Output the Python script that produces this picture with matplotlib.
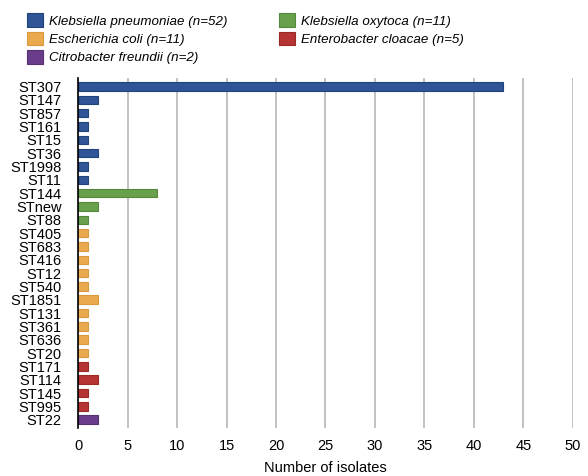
import matplotlib
matplotlib.use("Agg")
import matplotlib.pyplot as plt
from matplotlib.patches import Patch

plt.rcParams['font.family'] = ['Liberation Sans', 'DejaVu Sans']

# Sequence types, grouped by species
sequence_types = [
    "ST307", "ST147", "ST857", "ST161", "ST15", "ST36", "ST1998", "ST11",
    "ST144", "STnew", "ST88",
    "ST405", "ST683", "ST416", "ST12", "ST540", "ST1851", "ST131", "ST361", "ST636", "ST20",
    "ST171", "ST114", "ST145", "ST995",
    "ST22",
]
isolate_counts = [
    43, 2, 1, 1, 1, 2, 1, 1,
    8, 2, 1,
    1, 1, 1, 1, 1, 2, 1, 1, 1, 1,
    1, 2, 1, 1,
    2,
]
species_of_st = (
    ["kp"] * 8 + ["ko"] * 3 + ["ec"] * 10 + ["ecl"] * 4 + ["cf"] * 1
)

species_labels = {
    "kp": "Klebsiella pneumoniae (n=52)",
    "ec": "Escherichia coli (n=11)",
    "cf": "Citrobacter freundii (n=2)",
    "ko": "Klebsiella oxytoca (n=11)",
    "ecl": "Enterobacter cloacae (n=5)",
}
species_colors = {
    "kp": "#2f5597",
    "ko": "#68a04c",
    "ec": "#eaa94c",
    "ecl": "#b63433",
    "cf": "#6a3d8a",
}
species_edges = {
    "kp": "#22427a",
    "ko": "#55873d",
    "ec": "#d99a3f",
    "ecl": "#9a2a2a",
    "cf": "#55306f",
}
legend_order = ["kp", "ec", "cf", "ko", "ecl"]

fig = plt.figure(figsize=(5.88, 4.76), dpi=100)
ax = fig.add_axes([0.133, 0.101, 0.841, 0.735])

positions = range(len(sequence_types))
ax.barh(
    positions, isolate_counts, height=0.64,
    color=[species_colors[s] for s in species_of_st],
    edgecolor=[species_edges[s] for s in species_of_st],
    linewidth=0.8, zorder=3,
)

ax.set_yticks(list(positions))
ax.set_yticklabels(sequence_types, fontsize=10.5)
ax.set_ylim(len(sequence_types) - 0.38, -0.64)

ax.set_xlim(0, 50)
ax.set_xticks(range(0, 51, 5))
ax.tick_params(axis="x", labelsize=10.5, length=0, pad=8)
ax.tick_params(axis="y", length=0, pad=12)
ax.set_xlabel("Number of isolates", fontsize=10.5, labelpad=6)

ax.grid(axis="x", color="#bdbdbd", linewidth=1.3, zorder=0)
for side in ["top", "right", "bottom"]:
    ax.spines[side].set_visible(False)
ax.spines["left"].set_color("black")
ax.spines["left"].set_linewidth(1.2)
ax.spines["left"].set_zorder(4)

handles = [
    Patch(facecolor=species_colors[k], edgecolor=species_edges[k], linewidth=0.8)
    for k in legend_order
]
labels = [species_labels[k] for k in legend_order]
fig.legend(
    handles, labels, ncol=2, loc="upper left", bbox_to_anchor=(0.025, 0.997),
    frameon=False, prop={"style": "italic", "size": 9.6},
    handlelength=1.2, handleheight=1.2, handletextpad=0.5,
    columnspacing=3.8, labelspacing=0.3,
)

fig.savefig("out.png", dpi=100)
